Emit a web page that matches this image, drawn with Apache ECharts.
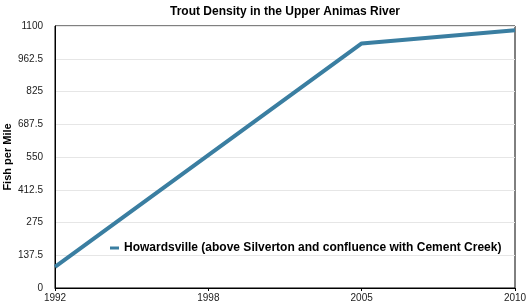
<!DOCTYPE html>
<html>
<head>
<meta charset="utf-8">
<script src="https://cdn.jsdelivr.net/npm/echarts@6/dist/echarts.min.js"></script>
<style>html,body{margin:0;padding:0;background:#fff}#c{width:527px;height:305px}</style>
</head>
<body>
<div id="c"></div>
<script>
const years = ['1992', '1998', '2005', '2010'];
const howardsville = [89, 558, 1027, 1082];
const seriesName = 'Howardsville (above Silverton and confluence with Cement Creek)';
const yTicks = [0, 137.5, 275, 412.5, 550, 687.5, 825, 962.5, 1100];

const chart = echarts.init(document.getElementById('c'), null, {renderer: 'canvas'});
const font = 'Liberation Sans, Arial, Helvetica, sans-serif';
chart.setOption({
  animation: false,
  textStyle: {fontFamily: font},
  title: {
    text: 'Trout Density in the Upper Animas River',
    left: 280, textAlign: 'center', top: 1,
    textStyle: {fontSize: 12, fontWeight: 'bold', color: '#000', fontFamily: font}
  },
  grid: {left: 55, right: 12, top: 26, bottom: 17, show: true, borderColor: '#000', borderWidth: 1,
    containLabel: false, outerBoundsMode: 'none'},
  legend: {
    data: [seriesName], left: 105, top: 237,
    icon: 'rect', itemWidth: 9, itemHeight: 3, itemGap: 8,
    textStyle: {fontSize: 12, fontWeight: 'bold', color: '#000', fontFamily: font}
  },
  xAxis: {
    type: 'category', data: years, boundaryGap: false,
    axisLine: {lineStyle: {color: '#000', width: 1}},
    axisTick: {show: true, length: 3, lineStyle: {color: '#000'}},
    axisLabel: {fontSize: 10, color: '#222', margin: 5, fontFamily: font},
    splitLine: {show: false}
  },
  yAxis: {
    type: 'value', min: 0, max: 1100, interval: 137.5,
    name: 'Fish per Mile', nameLocation: 'middle', nameGap: 42, nameMoveOverlap: false,
    nameTextStyle: {fontSize: 11, fontWeight: 'bold', color: '#000', fontFamily: font},
    axisLine: {show: true, lineStyle: {color: '#000'}},
    axisTick: {show: false},
    axisLabel: {fontSize: 10, color: '#222', margin: 12, fontFamily: font,
      formatter: v => yTicks.includes(v) ? String(v) : ''},
    splitLine: {lineStyle: {color: '#e6e6e6', width: 1}}
  },
  series: [{
    name: seriesName, type: 'line', data: howardsville,
    showSymbol: false, symbol: 'none',
    lineStyle: {color: '#3a7ea1', width: 4},
    itemStyle: {color: '#3a7ea1'}
  }]
});
</script>
</body>
</html>
